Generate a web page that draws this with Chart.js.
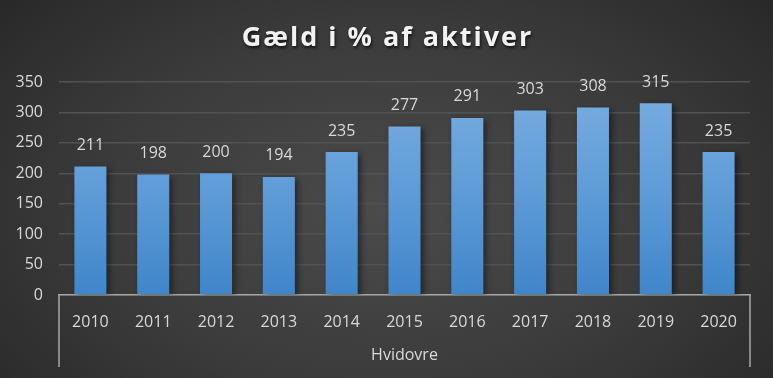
<!DOCTYPE html>
<html>
<head>
<meta charset="utf-8">
<script src="https://cdn.jsdelivr.net/npm/chart.js@4.4.1/dist/chart.umd.min.js"></script>
<style>
    html, body { margin: 0; padding: 0; }
    body {
        width: 773px;
        height: 378px;
        overflow: hidden;
        background: radial-gradient(ellipse 70% 90% at 50% 55%, #4b4b4b 0%, #3a3a3a 55%, #262626 100%);
    }
    #wrap { position: relative; width: 773px; height: 378px; }
</style>
</head>
<body>
<div id="wrap"><canvas id="gaeld-chart"></canvas></div>
<script>
// Data
const years = ['2010', '2011', '2012', '2013', '2014', '2015', '2016', '2017', '2018', '2019', '2020'];
const gaeldPct = [211, 198, 200, 194, 235, 277, 291, 303, 308, 315, 235];
const groupLabel = 'Hvidovre';
const chartTitle = 'Gæld i % af aktiver';

const TEXT_COLOR = '#d9d9d9';
const FONT = '"Open Sans", "Noto Sans", sans-serif';

// Titel med skygge
const titlePlugin = {
    id: 'titlePlugin',
    afterDraw(chart) {
        const c = chart.ctx;
        c.save();
        c.font = 'bold 27px ' + FONT;
        c.letterSpacing = '2px';
        c.fillStyle = '#f2f2f2';
        c.textAlign = 'center';
        c.textBaseline = 'middle';
        c.shadowColor = 'rgba(0,0,0,0.7)';
        c.shadowBlur = 3;
        c.shadowOffsetX = 1;
        c.shadowOffsetY = 2;
        c.fillText(chartTitle, chart.width / 2 + 1, 38);
        c.restore();
    }
};

// Værdier over søjlerne
const valueLabels = {
    id: 'valueLabels',
    afterDatasetsDraw(chart) {
        const c = chart.ctx;
        const meta = chart.getDatasetMeta(0);
        c.save();
        c.font = '16px ' + FONT;
        c.fillStyle = TEXT_COLOR;
        c.textAlign = 'center';
        c.textBaseline = 'middle';
        meta.data.forEach((bar, i) => {
            c.fillText(gaeldPct[i], bar.x, bar.y - 21);
        });
        c.restore();
    }
};

// Gruppe-etiket under årstallene
const groupPlugin = {
    id: 'groupPlugin',
    afterDraw(chart) {
        const c = chart.ctx;
        const a = chart.chartArea;
        c.save();
        c.strokeStyle = '#a6a6a6';
        c.lineWidth = 1.5;
        c.beginPath();
        c.moveTo(a.left, a.bottom);
        c.lineTo(a.left, a.bottom + 72);
        c.moveTo(a.right, a.bottom);
        c.lineTo(a.right, a.bottom + 72);
        c.stroke();
        c.font = '16px ' + FONT;
        c.fillStyle = TEXT_COLOR;
        c.textAlign = 'center';
        c.textBaseline = 'middle';
        c.fillText(groupLabel, (a.left + a.right) / 2, a.bottom + 60);
        c.restore();
    }
};

// Skygge på søjlerne
const barShadow = {
    id: 'barShadow',
    beforeDatasetDraw(chart) {
        const c = chart.ctx;
        c.save();
        c.shadowColor = 'rgba(0,0,0,0.45)';
        c.shadowBlur = 6;
        c.shadowOffsetX = 3;
        c.shadowOffsetY = 2;
    },
    afterDatasetDraw(chart) {
        chart.ctx.restore();
    }
};

function barGradient(context) {
    const chart = context.chart;
    const a = chart.chartArea;
    if (!a) return '#5b9bd5';
    const g = chart.ctx.createLinearGradient(0, a.top, 0, a.bottom);
    g.addColorStop(0, '#7aaee0');
    g.addColorStop(0.5, '#5f9cd8');
    g.addColorStop(1, '#3f86c9');
    return g;
}

const ctx = document.getElementById('gaeld-chart').getContext('2d');

const chart = new Chart(ctx, {
    type: 'bar',
    data: {
        labels: years,
        datasets: [{
            data: gaeldPct,
            backgroundColor: barGradient,
            borderWidth: 0,
            categoryPercentage: 1,
            barPercentage: 0.51
        }]
    },
    options: {
        responsive: true,
        maintainAspectRatio: false,
        animation: false,
        layout: {
            padding: { top: 82, right: 23, left: 0, bottom: 0 }
        },
        scales: {
            y: {
                min: 0,
                max: 350,
                ticks: {
                    stepSize: 50,
                    padding: 16,
                    color: TEXT_COLOR,
                    font: { family: FONT, size: 16 }
                },
                grid: {
                    color: '#525252',
                    lineWidth: 1.5,
                    drawTicks: false
                },
                border: { display: false },
                afterFit(scale) { scale.width = 59; }
            },
            x: {
                ticks: {
                    padding: 10,
                    color: TEXT_COLOR,
                    font: { family: FONT, size: 16 }
                },
                grid: { display: false },
                border: { display: true, color: '#a6a6a6', width: 1.5 },
                afterFit(scale) { scale.height = 83; }
            }
        },
        plugins: {
            legend: { display: false },
            tooltip: { enabled: false },
            title: { display: false }
        }
    },
    plugins: [barShadow, valueLabels, groupPlugin, titlePlugin]
});
</script>
</body>
</html>
